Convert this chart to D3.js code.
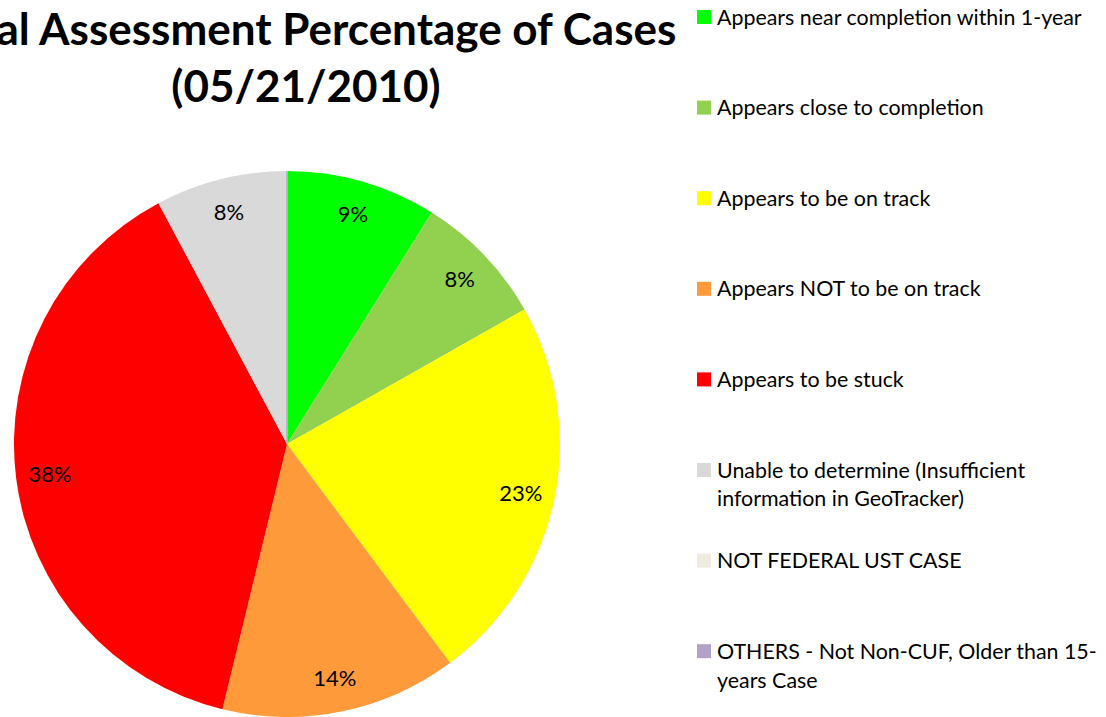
<!DOCTYPE html>
<html>
<head>
<meta charset="utf-8">
<script src="https://cdn.jsdelivr.net/npm/d3@7"></script>
<style>
  body { margin: 0; background: #fff; overflow: hidden; }
  svg { display: block; }
</style>
</head>
<body>
<svg id="pie-chart"></svg>
<script>
// slice data, clockwise from 12 o'clock
var categories = [
    "Appears near completion within 1-year",
    "Appears close to completion",
    "Appears to be on track",
    "Appears NOT to be on track",
    "Appears to be stuck",
    "Unable to determine (Insufficient information in GeoTracker)",
    "NOT FEDERAL UST CASE",
    "OTHERS - Not Non-CUF, Older than 15-years Case"
];
var percents = [8.9, 7.9, 23.0, 14.0, 38.4, 7.8, 0, 0];
var labels = ["9%", "8%", "23%", "14%", "38%", "8%", "", ""];
var colors = ["#00ff00", "#92d050", "#ffff00", "#ff9a3a", "#ff0000", "#d9d9d9", "#eeece1", "#b3a2c7"];
// legend text split the way it wraps in the picture
var legendLines = [
    ["Appears near completion within 1-year"],
    ["Appears close to completion"],
    ["Appears to be on track"],
    ["Appears NOT to be on track"],
    ["Appears to be stuck"],
    ["Unable to determine (Insufficient", "information in GeoTracker)"],
    ["NOT FEDERAL UST CASE"],
    ["OTHERS - Not Non-CUF, Older than 15-", "years Case"]
];
var titleLines = ["Final Assessment Percentage of Cases", "(05/21/2010)"];

drawChart();

function drawChart() {
    var svgWidth = 1106,
        svgHeight = 717,
        font = "Lato, 'Open Sans', sans-serif";

    var svg = d3.select("#pie-chart")
        .attr("width", svgWidth)
        .attr("height", svgHeight);

    var radius = 273,
        cx = 287,
        cy = 444;

    var data = categories.map(function(c, i) {
        return { name: c, value: percents[i], label: labels[i], color: colors[i] };
    });

    var pie = d3.pie()
        .sort(null)
        .value(function(d) { return d.value; });

    var arc = d3.arc()
        .innerRadius(0)
        .outerRadius(radius);

    var labelArc = d3.arc()
        .innerRadius(radius * 0.875)
        .outerRadius(radius * 0.875);

    var g = svg.append("g")
        .attr("transform", "translate(" + cx + "," + cy + ")");

    var arcs = pie(data);

    g.selectAll("path")
        .data(arcs)
        .enter().append("path")
        .attr("d", arc)
        .attr("fill", function(d) { return d.data.color; })
        // empty categories still leave a hairline at 12 o'clock
        .attr("stroke", function(d) { return d.data.value === 0 ? d.data.color : "none"; })
        .attr("stroke-width", 1);

    g.selectAll("text")
        .data(arcs.filter(function(d) { return d.data.value > 0; }))
        .enter().append("text")
        .attr("transform", function(d) { return "translate(" + labelArc.centroid(d) + ")"; })
        .attr("text-anchor", "middle")
        .attr("dy", "0.35em")
        .style("font-family", font)
        .style("font-size", "22px")
        .attr("fill", "#000")
        .text(function(d) { return d.data.label; });

    // title, runs off the left edge like the original
    svg.selectAll(".title")
        .data(titleLines)
        .enter().append("text")
        .attr("class", "title")
        .attr("x", 306)
        .attr("y", function(d, i) { return 45 + i * 57; })
        .attr("text-anchor", "middle")
        .style("font-family", font)
        .style("font-weight", "bold")
        .style("font-size", "44px")
        .attr("fill", "#000")
        .text(function(d) { return d; });

    // legend
    var legend = svg.append("g")
        .attr("transform", "translate(697,0)");

    var item = legend.selectAll(".legend-item")
        .data(legendLines)
        .enter().append("g")
        .attr("class", "legend-item")
        .attr("transform", function(d, i) { return "translate(0," + (17 + i * 90.6) + ")"; });

    item.append("rect")
        .attr("x", 0)
        .attr("y", -7)
        .attr("width", 14)
        .attr("height", 14)
        .attr("fill", function(d, i) { return colors[i]; });

    item.selectAll("text")
        .data(function(d) { return d; })
        .enter().append("text")
        .attr("x", 20)
        .attr("y", function(d, j) { return j * 29; })
        .attr("dy", "0.35em")
        .style("font-family", font)
        .style("font-size", "21.4px")
        .attr("fill", "#000")
        .text(function(d) { return d; });
}
</script>
</body>
</html>
